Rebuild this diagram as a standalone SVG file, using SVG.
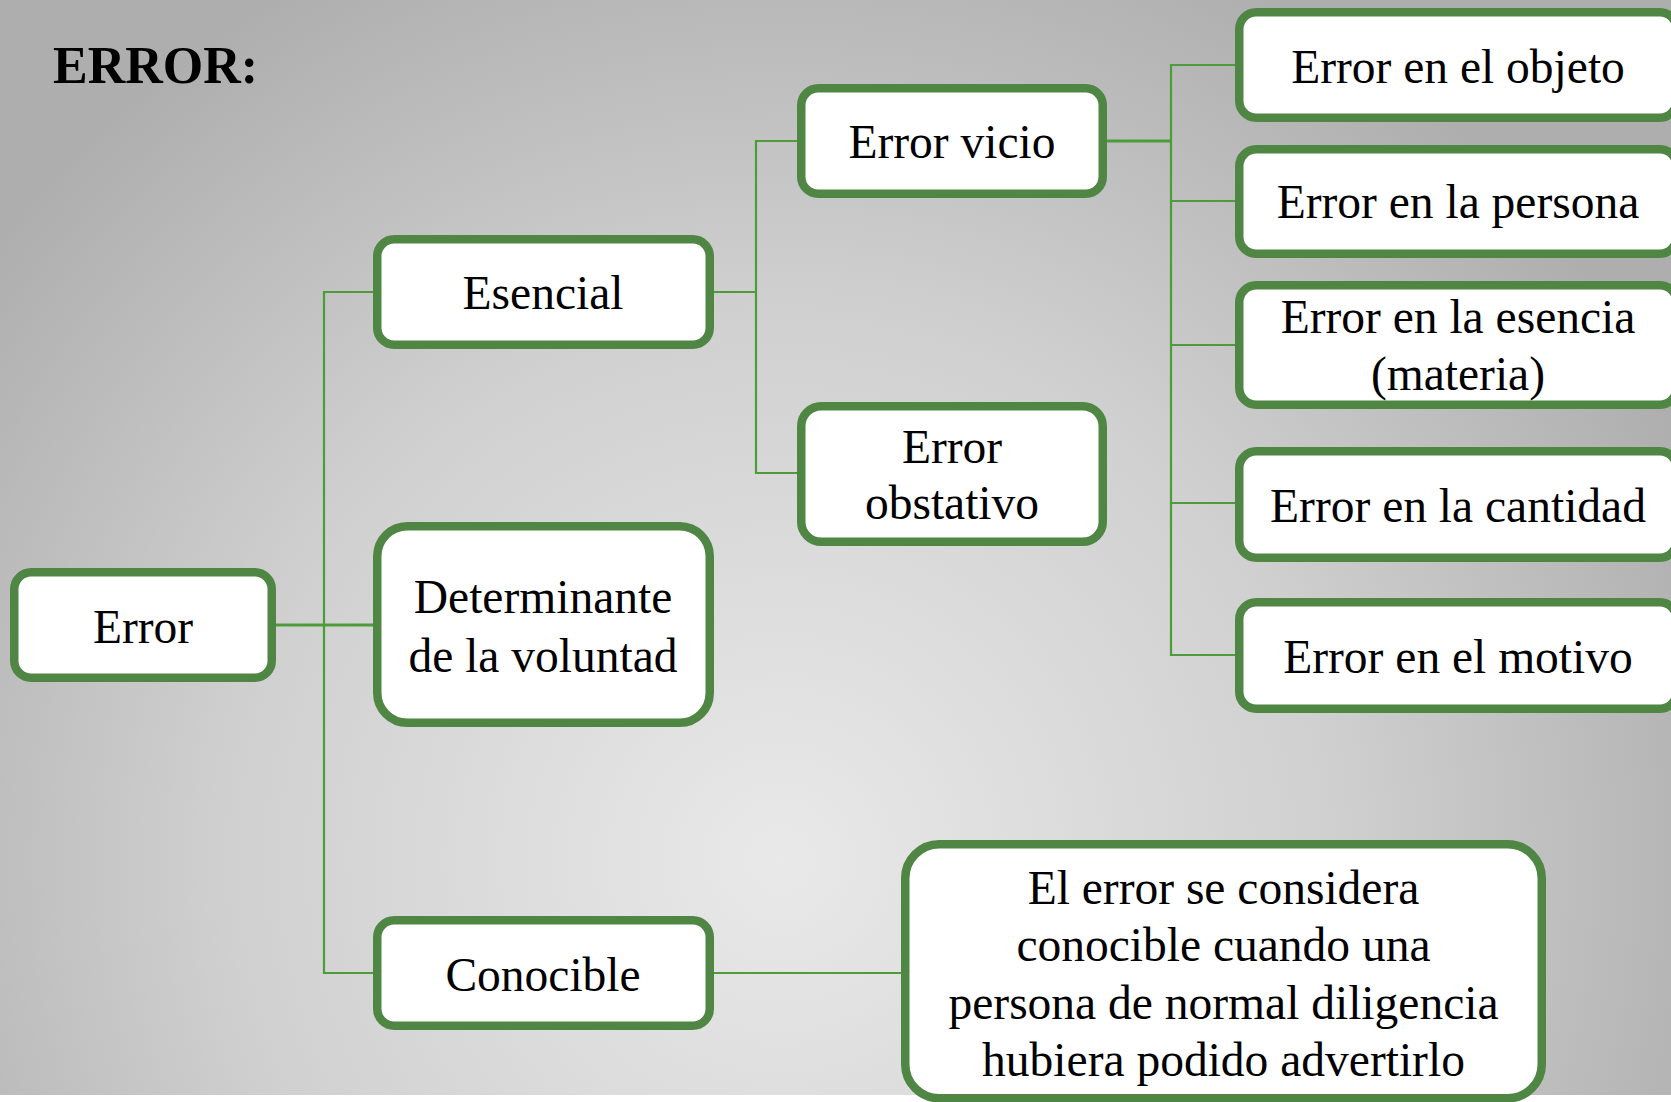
<svg xmlns="http://www.w3.org/2000/svg" width="1671" height="1102" viewBox="0 0 1671 1102">
<defs>
<radialGradient id="bg" gradientUnits="userSpaceOnUse" cx="780" cy="860" r="1000">
<stop offset="0" stop-color="#e9e9e9"/>
<stop offset="0.55" stop-color="#d0d0d0"/>
<stop offset="1" stop-color="#aeaeae"/>
</radialGradient>
<style>
.box{fill:#ffffff;stroke:#4f8644;stroke-width:8.5}
.t{font-family:"Liberation Serif","Times New Roman",serif;font-size:47.5px;fill:#000;text-anchor:middle}
.c{fill:none;stroke:#4e9b3c;stroke-width:2.2}
.ct{fill:none;stroke:#4e9b3c;stroke-width:3}
</style>
</defs>
<rect x="0" y="0" width="1671" height="1102" fill="#ffffff"/>
<rect x="0" y="0" width="1671" height="1095" fill="url(#bg)"/>
<text x="53" y="83" font-family="Liberation Serif, Times New Roman, serif" font-size="52" font-weight="bold" fill="#000">ERROR:</text>
<g id="connectors">
<line class="ct" x1="276" y1="625" x2="373" y2="625"/>
<polyline class="c" points="373,292 324,292 324,973 374,973"/>
<line class="c" x1="714" y1="292" x2="756" y2="292"/>
<polyline class="c" points="797,141 756,141 756,473 797,473"/>
<line class="ct" x1="1107" y1="141" x2="1171" y2="141"/>
<polyline class="c" points="1235,65 1171,65 1171,655 1235,655"/>
<line class="c" x1="1171" y1="201" x2="1235" y2="201"/>
<line class="c" x1="1171" y1="345" x2="1235" y2="345"/>
<line class="c" x1="1171" y1="503" x2="1235" y2="503"/>
<line class="c" x1="714" y1="973" x2="901" y2="973"/>
</g>
<g id="n-error">
<rect class="box" x="14.25" y="572.25" width="257.5" height="105.5" rx="17"/>
<text class="t" x="143" y="643">Error</text>
</g>
<g id="n-esencial">
<rect class="box" x="377.25" y="239.25" width="332.5" height="105.5" rx="17"/>
<text class="t" x="543" y="309">Esencial</text>
</g>
<g id="n-determinante">
<rect class="box" x="377.25" y="526.25" width="332.5" height="196.5" rx="30"/>
<text class="t" x="543" y="613">Determinante</text>
<text class="t" x="543" y="672">de la voluntad</text>
</g>
<g id="n-conocible">
<rect class="box" x="377.25" y="920.25" width="332.5" height="105.5" rx="17"/>
<text class="t" x="543" y="991">Conocible</text>
</g>
<g id="n-vicio">
<rect class="box" x="801.25" y="88.25" width="301.5" height="105.5" rx="17"/>
<text class="t" x="952" y="158">Error vicio</text>
</g>
<g id="n-obstativo">
<rect class="box" x="801.25" y="406.25" width="301.5" height="135.5" rx="20"/>
<text class="t" x="952" y="463">Error</text>
<text class="t" x="952" y="519">obstativo</text>
</g>
<g id="n-objeto">
<rect class="box" x="1239.25" y="12.25" width="437.5" height="105.5" rx="17"/>
<text class="t" x="1458" y="83">Error en el objeto</text>
</g>
<g id="n-persona">
<rect class="box" x="1239.25" y="149.25" width="437.5" height="104.5" rx="17"/>
<text class="t" x="1458" y="218">Error en la persona</text>
</g>
<g id="n-esencia">
<rect class="box" x="1239.25" y="285.25" width="437.5" height="119.5" rx="17"/>
<text class="t" x="1458" y="333">Error en la esencia</text>
<text class="t" x="1458" y="390">(materia)</text>
</g>
<g id="n-cantidad">
<rect class="box" x="1239.25" y="451.25" width="437.5" height="106.5" rx="17"/>
<text class="t" x="1458" y="522">Error en la cantidad</text>
</g>
<g id="n-motivo">
<rect class="box" x="1239.25" y="602.25" width="437.5" height="106.5" rx="17"/>
<text class="t" x="1458" y="673">Error en el motivo</text>
</g>
<g id="n-conocible-def">
<rect class="box" x="905.25" y="844.25" width="636.5" height="254" rx="34"/>
<text class="t" x="1223.5" y="904">El error se considera</text>
<text class="t" x="1223.5" y="961">conocible cuando una</text>
<text class="t" x="1223.5" y="1019">persona de normal diligencia</text>
<text class="t" x="1223.5" y="1076">hubiera podido advertirlo</text>
</g>
</svg>
